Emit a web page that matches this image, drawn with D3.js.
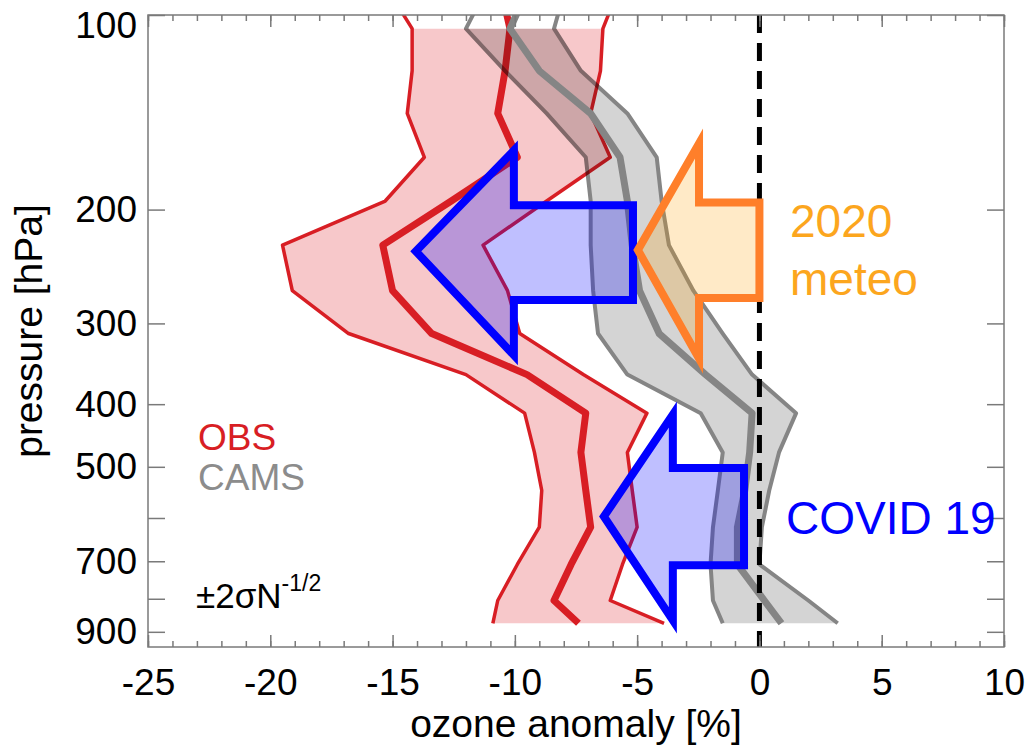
<!DOCTYPE html>
<html>
<head>
<meta charset="utf-8">
<script src="https://cdn.jsdelivr.net/npm/d3@7"></script>
<style>
body { margin: 0; background: #fff; }
svg { display: block; font-family: "Liberation Sans", Arial, Helvetica, sans-serif; }
</style>
</head>
<body>
<svg></svg>
<script>
// profile levels [hPa]; the first one sits above the frame and is clipped
var levels = [90, 105, 122, 142, 166, 194, 227, 267, 311, 360, 413, 475, 544, 620, 708, 805, 873];

// ozone anomaly [%] at each level
var obsLow  = [-15.3, -14.2, -14.2, -14.4, -13.7, -15.3, -19.5, -19.1, -16.8, -12.0, -9.6, -9.2, -8.9, -9.0, -9.9, -10.7, -10.9];
var obsMean = [-10.6, -10.2, -10.4, -10.7, -9.9, -12.6, -15.4, -15.0, -13.4, -9.5, -7.1, -7.3, -7.1, -6.9, -7.7, -8.4, -7.4];
var obsHigh = [-5.7, -6.4, -6.5, -6.9, -6.1, -8.7, -11.3, -10.3, -9.8, -7.2, -4.6, -5.4, -5.2, -5.0, -5.6, -6.1, -3.9];

var camsLow  = [-11.1, -12.0, -10.4, -8.7, -7.1, -6.9, -6.9, -6.8, -6.6, -5.4, -2.4, -1.5, -1.7, -1.9, -2.0, -1.9, -1.5];
var camsMean = [-9.4, -10.2, -9.0, -6.9, -5.7, -5.4, -5.2, -4.9, -4.1, -2.2, -0.3, -0.4, -0.6, -0.9, -0.9, 0.2, 0.9];
var camsHigh = [-7.9, -8.4, -7.3, -5.4, -4.2, -4.0, -3.7, -2.7, -1.5, -0.3, 1.5, 0.8, 0.4, 0.1, 0.0, 2.0, 3.2];

// annotation arrows, [anomaly %, pressure hPa]
var bigArrow    = [[-14.05, 232], [-10.04, 162], [-10.04, 197], [-5.17, 197], [-5.17, 276], [-10.04, 276], [-10.04, 336]];
var meteoArrow  = [[-4.97, 231], [-2.47, 158], [-2.47, 195], [0, 195], [0, 274], [-2.47, 274], [-2.47, 340]];
var covidArrow  = [[-6.36, 597], [-3.54, 415], [-3.54, 502], [-0.63, 502], [-0.63, 710], [-3.54, 710], [-3.54, 864]];

var xTicks = d3.range(-25, 11, 5);
var xMinor = d3.range(-25, 11, 1);
var yTicks = [100, 200, 300, 400, 500, 600, 700, 800, 900];
var yLabels = [100, 200, 300, 400, 500, 700, 900];

var W = 1029, H = 747;
var plotL = 148, plotR = 1004, plotT = 15, plotB = 647;

var x = d3.scaleLinear().domain([-25, 10]).range([plotL, plotR]);
var y = d3.scaleLog().domain([100, 950]).range([plotT, plotB]);

var svg = d3.select("svg").attr("width", W).attr("height", H);

svg.append("defs").append("clipPath").attr("id", "plot")
    .append("rect")
    .attr("x", plotL).attr("y", plotT)
    .attr("width", plotR - plotL).attr("height", plotB - plotT);

var plot = svg.append("g").attr("clip-path", "url(#plot)");

function profile(vals) {
    return d3.zip(vals, levels);
}

var line = d3.line()
    .x(function (d) { return x(d[0]); })
    .y(function (d) { return y(d[1]); });

function band(lo, hi) {
    var rows = levels.map(function (p, i) { return {p: p, lo: lo[i], hi: hi[i]}; }).slice(1);
    return d3.area()
        .y(function (d) { return y(d.p); })
        .x0(function (d) { return x(d.lo); })
        .x1(function (d) { return x(d.hi); })(rows);
}

// OBS
plot.append("path")
    .attr("d", band(obsLow, obsHigh))
    .attr("fill", "#f7c8ca");

[obsLow, obsHigh].forEach(function (v) {
    plot.append("path")
        .attr("d", line(profile(v)))
        .attr("fill", "none")
        .attr("stroke", "#d81e24")
        .attr("stroke-width", 3.5)
        .attr("stroke-linejoin", "round");
});
plot.append("path")
    .attr("d", line(profile(obsMean)))
    .attr("fill", "none")
    .attr("stroke", "#d81e24")
    .attr("stroke-width", 7)
    .attr("stroke-linejoin", "round");

// CAMS, multiplied over the red band
var cams = plot.append("g").style("mix-blend-mode", "multiply");
cams.append("path")
    .attr("d", band(camsLow, camsHigh))
    .attr("fill", "#d4d4d4");
[camsLow, camsHigh].forEach(function (v) {
    cams.append("path")
        .attr("d", line(profile(v)))
        .attr("fill", "none")
        .attr("stroke", "#858585")
        .attr("stroke-width", 4)
        .attr("stroke-linejoin", "round");
});
plot.append("path")
    .attr("d", line(profile(camsMean)))
    .attr("fill", "none")
    .attr("stroke", "#858585")
    .attr("stroke-width", 7)
    .attr("stroke-linejoin", "round");

// zero line
plot.append("line")
    .attr("x1", x(0)).attr("x2", x(0))
    .attr("y1", plotT).attr("y2", plotB)
    .attr("stroke", "#000")
    .attr("stroke-width", 5)
    .attr("stroke-dasharray", "18,10");

// arrows
function arrow(pts, stroke, fill) {
    plot.append("path")
        .attr("d", line(pts) + "Z")
        .attr("fill", fill)
        .attr("stroke", stroke)
        .attr("stroke-width", 8)
        .attr("stroke-linejoin", "miter")
        .attr("stroke-miterlimit", 10);
}
arrow(bigArrow, "#0000ff", "rgba(0,0,255,0.25)");
arrow(meteoArrow, "#ff7f2a", "rgba(255,160,0,0.22)");
arrow(covidArrow, "#0000ff", "rgba(0,0,255,0.25)");

// axes
var axisColor = "#7a7a7a";

function styleAxis(g) {
    g.select(".domain").remove();
    g.selectAll(".tick line").attr("stroke", axisColor).attr("stroke-width", 1.5);
    g.selectAll(".tick text").attr("fill", "#000").style("font-size", "37px");
}

svg.append("g")
    .attr("transform", "translate(0," + plotB + ")")
    .call(d3.axisBottom(x).tickValues(xMinor).tickSize(-6).tickFormat(""))
    .call(styleAxis);
svg.append("g")
    .attr("transform", "translate(0," + plotB + ")")
    .call(d3.axisBottom(x).tickValues(xTicks).tickSize(-12).tickPadding(22)
        .tickFormat(function (d) { return String(d); }))
    .call(styleAxis);
svg.append("g")
    .attr("transform", "translate(0," + plotT + ")")
    .call(d3.axisTop(x).tickValues(xMinor).tickSize(-6).tickFormat(""))
    .call(styleAxis);
svg.append("g")
    .attr("transform", "translate(0," + plotT + ")")
    .call(d3.axisTop(x).tickValues(xTicks).tickSize(-12).tickFormat(""))
    .call(styleAxis);

var yAxis = svg.append("g")
    .attr("transform", "translate(" + plotL + ",0)")
    .call(d3.axisLeft(y).tickValues(yTicks).tickSize(-17).tickPadding(11)
        .tickFormat(function (d) { return yLabels.indexOf(d) >= 0 ? String(d) : ""; }))
    .call(styleAxis);
// the top label sits a bit lower than its tick
yAxis.selectAll(".tick text").attr("dy", function (d) { return d === 100 ? "0.6em" : "0.32em"; });

svg.append("g")
    .attr("transform", "translate(" + plotR + ",0)")
    .call(d3.axisRight(y).tickValues(yTicks).tickSize(-17).tickFormat(""))
    .call(styleAxis);

svg.append("rect")
    .attr("x", plotL).attr("y", plotT)
    .attr("width", plotR - plotL).attr("height", plotB - plotT)
    .attr("fill", "none")
    .attr("stroke", axisColor)
    .attr("stroke-width", 1.5);

// axis titles
svg.append("text")
    .attr("x", (plotL + plotR) / 2).attr("y", 737)
    .attr("text-anchor", "middle")
    .style("font-size", "39px")
    .text("ozone anomaly [%]");

svg.append("text")
    .attr("transform", "translate(42,331) rotate(-90)")
    .attr("text-anchor", "middle")
    .style("font-size", "39px")
    .text("pressure [hPa]");

// legend and notes
svg.append("text").attr("x", 198).attr("y", 450)
    .attr("fill", "#d81e24").style("font-size", "37px").text("OBS");
svg.append("text").attr("x", 198).attr("y", 490)
    .attr("fill", "#8c8c8c").style("font-size", "37px").text("CAMS");

var sig = svg.append("text").attr("x", 196).attr("y", 608).style("font-size", "35px");
sig.append("tspan").text("±2σN");
sig.append("tspan").attr("dy", -17).style("font-size", "23px").text("-1/2");

svg.append("text").attr("x", 790).attr("y", 237)
    .attr("fill", "#fca61e").style("font-size", "46px").text("2020");
svg.append("text").attr("x", 790).attr("y", 295)
    .attr("fill", "#fca61e").style("font-size", "46px").text("meteo");
svg.append("text").attr("x", 786).attr("y", 534)
    .attr("fill", "#0000ff").style("font-size", "46px").text("COVID 19");
</script>
</body>
</html>
